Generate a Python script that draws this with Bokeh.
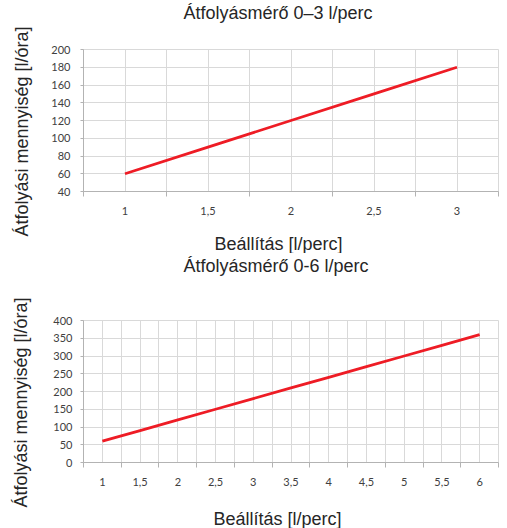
from bokeh.plotting import figure
from bokeh.models import FixedTicker, Range1d, Title
from bokeh.layouts import column
from bokeh.embed import file_html
from bokeh.resources import INLINE

# ---------------- data ----------------
titles = ["Átfolyásmérő 0–3 l/perc", "Átfolyásmérő 0-6 l/perc"]
x_title = "Beállítás [l/perc]"
y_title = "Átfolyási mennyiség [l/óra]"

setting_1 = [1, 1.5, 2, 2.5, 3]
flow_1 = [60, 90, 120, 150, 180]
y_ticks_1 = [40, 60, 80, 100, 120, 140, 160, 180, 200]

setting_2 = [1, 1.5, 2, 2.5, 3, 3.5, 4, 4.5, 5, 5.5, 6]
flow_2 = [60, 90, 120, 150, 180, 210, 240, 270, 300, 330, 360]
y_ticks_2 = [0, 50, 100, 150, 200, 250, 300, 350, 400]

RED = "#ee1c25"
GRID = "#d9d9d9"
AXIS = "#b3b3b3"
TICK_TXT = "#404040"
TITLE_TXT = "#262626"


def key(v):
    return int(v) if float(v).is_integer() else v


def spacer(size):
    return Title(text=" ", text_font_size="1px", standoff=size - 3)


def make_chart(title, xs, ys, yticks, height, frame, t_off, x_off,
               y_lab_standoff, gaps):
    fl, fr, ft, fb = frame
    x0 = xs[0] - 0.25
    x1 = xs[-1] + 0.25
    n = len(xs)
    bounds = [x0 + 0.5 * k for k in range(n + 1)]
    quarters = [x0 + 0.25 * k for k in range(2 * n + 1)]

    p = figure(width=507, height=height, output_backend="svg",
               toolbar_location=None,
               x_range=Range1d(x0, x1), y_range=Range1d(yticks[0], yticks[-1]),
               min_border_top=ft, min_border_bottom=height - fb,
               min_border_left=fl, min_border_right=507 - fr)
    p.background_fill_color = "white"
    p.border_fill_color = "white"
    p.outline_line_color = GRID

    # grids
    p.xgrid.ticker = FixedTicker(ticks=quarters)
    p.ygrid.ticker = FixedTicker(ticks=yticks)
    for g in (p.xgrid, p.ygrid):
        g.grid_line_color = GRID
        g.grid_line_width = 1

    # x axis
    xa = p.xaxis[0]
    xa.ticker = FixedTicker(ticks=xs, minor_ticks=bounds)
    xa.major_label_overrides = {key(v): f"{v:g}".replace(".", ",") for v in xs}
    xa.major_tick_out = 0
    xa.major_tick_in = 0
    xa.minor_tick_out = 5
    xa.minor_tick_in = 0
    xa.major_label_standoff = 10

    # y axis
    ya = p.yaxis[0]
    ya.ticker = FixedTicker(ticks=yticks)
    ya.major_tick_out = 3
    ya.major_tick_in = 0
    ya.minor_tick_out = 0
    ya.minor_tick_in = 0
    ya.major_label_standoff = y_lab_standoff

    for a in (xa, ya):
        a.axis_line_color = AXIS
        a.major_tick_line_color = AXIS
        a.minor_tick_line_color = AXIS
        a.major_label_text_font = "Lato"
        a.major_label_text_font_size = "11px"
        a.major_label_text_color = TICK_TXT

    g_top, g_left, yt_st, g_bottom = gaps

    # chart title (spacer keeps it at the top of the canvas)
    p.add_layout(spacer(g_top), "above")
    p.title.text = title
    p.title.align = "left"
    p.title.offset = t_off
    p.title.standoff = 0
    p.title.text_font = "Liberation Sans"
    p.title.text_font_size = "18px"
    p.title.text_font_style = "normal"
    p.title.text_color = TITLE_TXT

    # y axis title
    p.add_layout(spacer(g_left), "left")
    yt = Title(text=y_title, align="left", offset=-45,
               text_font="Liberation Sans", text_font_size="18px",
               text_font_style="normal", text_color=TITLE_TXT,
               standoff=yt_st)
    p.add_layout(yt, "left")

    # x axis title
    p.add_layout(spacer(g_bottom), "below")
    xt = Title(text=x_title, align="left", offset=x_off,
               text_font="Liberation Sans", text_font_size="18px",
               text_font_style="normal", text_color=TITLE_TXT, standoff=0)
    p.add_layout(xt, "below")

    p.line(xs, ys, line_color=RED, line_width=2.8)
    return p


H1 = 253
H2 = 275
# frame = (left, right, top, bottom)
p1 = make_chart(titles[0], setting_1, flow_1, y_ticks_1, H1,
                (82, 498, 49, 193), 100, 131, 10, (27, 10, 14, 14))
p2 = make_chart(titles[1], setting_2, flow_2, y_ticks_2, H2,
                (83, 500, 67, 210), 100, 130, 8, (45, 12, 16, 18))

p = column(p1, p2, spacing=0)
open("out.html", "w").write(file_html(p, INLINE))
